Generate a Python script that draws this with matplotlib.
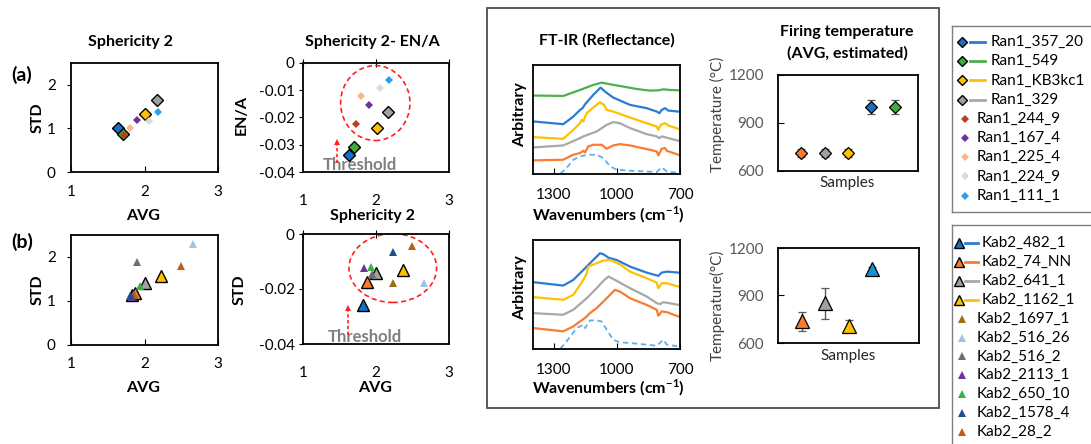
import matplotlib
matplotlib.use('Agg')
import matplotlib.pyplot as plt
from matplotlib.patches import Ellipse, Rectangle

plt.rcParams['font.family'] = ['Lato', 'DejaVu Sans']
plt.rcParams['font.size'] = 10
plt.rcParams['mathtext.fontset'] = 'custom'
plt.rcParams['mathtext.bf'] = 'Lato:bold'
plt.rcParams['mathtext.rm'] = 'Lato'

W, H = 1091, 444

# ---- Ran1 samples (panel a) ----
ran1_names = ['Ran1_357_20', 'Ran1_549', 'Ran1_KB3kc1', 'Ran1_329', 'Ran1_244_9',
              'Ran1_167_4', 'Ran1_225_4', 'Ran1_224_9', 'Ran1_111_1']
ran1_colors = ['#1a6fc4', '#3cae3c', '#ffc000', '#a0a0a0', '#b8401a',
               '#7030a0', '#f8b88b', '#d9d9d9', '#29a3e8']
ran1_avg = [1.64, 1.71, 2.01, 2.17, 1.72, 1.90, 1.80, 2.06, 2.18]
ran1_std = [1.00, 0.88, 1.34, 1.64, 0.86, 1.19, 1.00, 1.17, 1.37]
ran1_sph = [1.63, 1.70, 2.01, 2.16, 1.73, 1.90, 1.79, 2.05, 2.18]
ran1_ena = [-0.0338, -0.0308, -0.0238, -0.0180, -0.0224, -0.0154, -0.0121, -0.0092, -0.0062]

# ---- Kab2 samples (panel b) ----
kab2_names = ['Kab2_482_1', 'Kab2_74_NN', 'Kab2_641_1', 'Kab2_1162_1', 'Kab2_1697_1',
              'Kab2_516_26', 'Kab2_516_2', 'Kab2_2113_1', 'Kab2_650_10', 'Kab2_1578_4', 'Kab2_28_2']
kab2_colors = ['#1a6fc4', '#f97a2b', '#a0a0a0', '#ffc000', '#9c6f10',
               '#9dc3e6', '#6e6e6e', '#7030a0', '#3cb043', '#1f4e8c', '#c55a11']
kab2_avg = [1.83, 1.87, 2.01, 2.23, 1.86, 2.66, 1.90, 1.83, 1.94, 1.80, 2.50]
kab2_std = [1.14, 1.18, 1.41, 1.57, 1.15, 2.30, 1.89, 1.09, 1.34, 1.12, 1.80]
kab2_x2 = [1.82, 1.87, 2.00, 2.37, 2.23, 2.66, 1.95, 1.83, 1.93, 2.23, 2.49]
kab2_y2 = [-0.0260, -0.0176, -0.0142, -0.0130, -0.0178, -0.0178, -0.0145, -0.0125, -0.0120, -0.0067, -0.0044]
N_BIG = 4

# ---- FT-IR spectra, top (Ran1) ----
ira_green_wn = [1398, 1256, 1176, 1113, 1073, 1033, 970, 906, 843, 803, 779, 748, 708]
ira_green = [0.72, 0.716, 0.771, 0.817, 0.838, 0.823, 0.802, 0.780, 0.765, 0.768, 0.777, 0.771, 0.768]
ira_blue_wn = [1398, 1256, 1208, 1176, 1164, 1152, 1113, 1078, 1057, 1018, 938, 859, 811, 798, 787, 771, 756, 708]
ira_blue = [0.482, 0.457, 0.527, 0.588, 0.604, 0.640, 0.726, 0.793, 0.756, 0.701, 0.634, 0.604, 0.573, 0.558, 0.588, 0.604, 0.582, 0.573]
ira_gold_wn = [1398, 1256, 1208, 1176, 1168, 1160, 1152, 1144, 1113, 1081, 1062, 1049, 1018, 938, 859, 811, 803, 792, 771, 756, 708]
ira_gold = [0.338, 0.323, 0.405, 0.466, 0.497, 0.482, 0.527, 0.558, 0.610, 0.659, 0.634, 0.588, 0.573, 0.518, 0.466, 0.436, 0.405, 0.451, 0.466, 0.445, 0.415]
ira_gray_wn = [1398, 1256, 1176, 1160, 1097, 1049, 1018, 986, 938, 859, 811, 798, 787, 708]
ira_gray = [0.244, 0.262, 0.329, 0.345, 0.390, 0.451, 0.476, 0.466, 0.421, 0.366, 0.345, 0.329, 0.345, 0.305]
ira_orange_wn = [1398, 1256, 1208, 1176, 1160, 1152, 1137, 1113, 1073, 1049, 1018, 986, 938, 859, 811, 803, 787, 771, 763, 708]
ira_orange = [0.125, 0.131, 0.177, 0.192, 0.213, 0.198, 0.253, 0.268, 0.268, 0.232, 0.262, 0.274, 0.262, 0.229, 0.207, 0.171, 0.232, 0.238, 0.213, 0.177]
ira_ref_wn = [1398, 1271, 1240, 1208, 1176, 1137, 1097, 1065, 1033, 1002, 938, 811, 787, 763, 708]
ira_ref = [0.0, 0.0, 0.055, 0.131, 0.162, 0.177, 0.177, 0.146, 0.070, 0.040, 0.030, 0.018, 0.061, 0.024, 0.009]

# ---- FT-IR spectra, bottom (Kab2) ----
irb_blue_wn = [1398, 1256, 1208, 1160, 1113, 1081, 1065, 1041, 1002, 938, 859, 803, 787, 763, 708]
irb_blue = [0.613, 0.582, 0.634, 0.726, 0.817, 0.878, 0.869, 0.838, 0.817, 0.756, 0.701, 0.671, 0.701, 0.710, 0.701]
irb_gold_wn = [1398, 1256, 1208, 1160, 1144, 1137, 1097, 1065, 1033, 986, 938, 859, 811, 803, 787, 763, 708]
irb_gold = [0.476, 0.451, 0.497, 0.634, 0.695, 0.756, 0.787, 0.811, 0.817, 0.777, 0.710, 0.649, 0.610, 0.558, 0.604, 0.604, 0.573]
irb_gray_wn = [1398, 1256, 1208, 1144, 1097, 1065, 1041, 1010, 938, 859, 811, 795, 779, 708]
irb_gray = [0.329, 0.314, 0.360, 0.466, 0.558, 0.625, 0.665, 0.634, 0.558, 0.482, 0.421, 0.412, 0.430, 0.405]
irb_orange_wn = [1398, 1256, 1208, 1176, 1160, 1144, 1129, 1097, 1049, 1010, 986, 938, 859, 811, 803, 787, 763, 708]
irb_orange = [0.192, 0.162, 0.207, 0.253, 0.274, 0.299, 0.329, 0.375, 0.466, 0.543, 0.527, 0.466, 0.405, 0.360, 0.305, 0.345, 0.338, 0.299]
irb_ref_wn = [1398, 1271, 1240, 1192, 1160, 1152, 1129, 1097, 1073, 1049, 1018, 986, 938, 811, 779, 763, 708]
irb_ref = [0.0, 0.0, 0.070, 0.192, 0.223, 0.192, 0.262, 0.262, 0.253, 0.177, 0.085, 0.061, 0.055, 0.030, 0.085, 0.040, 0.024]

# ---- firing temperatures ----
fire_a_colors = ['#f97a2b', '#a0a0a0', '#ffc000', '#1a6fc4', '#3cae3c']
fire_a_temp = [712, 712, 712, 1000, 1000]
fire_a_err = [25, 25, 25, 45, 45]
fire_b_colors = ['#f97a2b', '#a0a0a0', '#ffc000', '#1a8fd6']
fire_b_temp = [736, 850, 710, 1067]
fire_b_err = [60, 100, 35, 15]

# threshold annotations (data coords)
thr_a = (1.47, -0.0367, -0.0290, 1.78, -0.0405)
thr_b = (1.62, -0.0367, -0.0270, 1.85, -0.0405)
ell_a = (1.99, -0.0147, 0.95, 0.0275)
ell_b = (2.23, -0.0124, 1.20, 0.0250)

LINE_BLUE = '#2a7bd4'
LINE_GREEN = '#4cb04c'
LINE_GOLD = '#ffc000'
LINE_GRAY = '#a8a8a8'
LINE_ORANGE = '#fb7b30'
REF_BLUE = '#5db0ec'
LINE_OF = {'#1a6fc4': LINE_BLUE, '#3cae3c': LINE_GREEN, '#ffc000': LINE_GOLD,
           '#a0a0a0': LINE_GRAY, '#f97a2b': LINE_ORANGE}

TICK = 11
fig = plt.figure(figsize=(W / 100, H / 100), dpi=100)


def px_axes(x0, y0, x1, y1):
    return fig.add_axes([x0 / W, 1 - y1 / H, (x1 - x0) / W, (y1 - y0) / H])


def ftext(x, y, s, **kw):
    kw.setdefault('ha', 'center')
    kw.setdefault('va', 'center')
    fig.text(x / W, 1 - y / H, s, **kw)


def box(ax, lw=1.3):
    for sp in ax.spines.values():
        sp.set_linewidth(lw)
        sp.set_color('black')


def scatter(ax, xs, ys, colors, marker, big_ms, small_ms):
    for i, (x, y, c) in enumerate(zip(xs, ys, colors)):
        if i < N_BIG:
            ax.plot(x, y, marker=marker, ms=big_ms, mfc=c, mec='black', mew=1.0, ls='none', zorder=3)
        else:
            ax.plot(x, y, marker=marker, ms=small_ms, mfc=c, mec=c, mew=0, ls='none', zorder=4)


def std_panel(ax):
    box(ax)
    ax.set_xlim(1, 3)
    ax.set_ylim(0, 2.5)
    ax.set_xticks([1, 2, 3])
    ax.set_yticks([0, 1, 2])
    ax.tick_params(axis='x', direction='in', length=4, pad=9, labelsize=TICK)
    ax.tick_params(axis='y', direction='out', length=3, pad=8, labelsize=TICK)


def ena_panel(ax, ticks, ell, thr):
    box(ax)
    ax.set_xlim(1, 3)
    ax.set_ylim(-0.04, 0)
    ax.set_xticks([1, 2, 3])
    ax.set_yticks(ticks)
    ax.set_yticklabels(['0' if t == 0 else f'{t:g}' for t in ticks])
    ax.tick_params(axis='x', bottom=False, top=True, labelbottom=True, direction='inout',
                   length=6, pad=13, labelsize=TICK)
    ax.tick_params(axis='y', direction='out', length=3, pad=3, labelsize=TICK)
    ax.add_patch(Ellipse((ell[0], ell[1]), ell[2], ell[3], fill=False, ec='#ff2020',
                         lw=1.2, ls=(0, (3, 2)), zorder=2))
    ax.plot([thr[0], thr[0]], [thr[1], thr[2]], color='#ff2020', lw=1.2, ls=(0, (2, 1.5)))
    ax.plot(thr[0], thr[2], marker='^', ms=5, color='#ff2020', mew=0)
    ax.text(thr[3], thr[4], 'Threshold', ha='center', va='bottom', color='#7f7f7f',
            fontsize=12, fontweight='bold', clip_on=True, zorder=1)


# ---- panel (a) ----
ax = px_axes(71, 63, 218, 172)
std_panel(ax)
scatter(ax, ran1_avg, ran1_std, ran1_colors, 'D', 6, 3.8)
ax = px_axes(303, 63, 449, 172)
ena_panel(ax, [0, -0.01, -0.02, -0.03, -0.04], ell_a, thr_a)
scatter(ax, ran1_sph, ran1_ena, ran1_colors, 'D', 6, 3.8)

# ---- panel (b) ----
ax = px_axes(71, 235, 218, 345)
std_panel(ax)
scatter(ax, kab2_avg, kab2_std, kab2_colors, '^', 9, 5.5)
ax = px_axes(303, 234, 449, 344)
ena_panel(ax, [0, -0.02, -0.04], ell_b, thr_b)
scatter(ax, kab2_x2, kab2_y2, kab2_colors, '^', 9, 5.5)

bold = dict(fontweight='bold', fontsize=11.5)
ftext(130, 42, 'Sphericity 2', **bold)
ftext(372, 42, 'Sphericity 2- EN/A', **bold)
ftext(22, 75, '(a)', fontweight='bold', fontsize=14)
ftext(22, 242, '(b)', fontweight='bold', fontsize=14)
ftext(143, 216, 'AVG', **bold)
ftext(372, 216, 'Sphericity 2', **bold)
ftext(143, 388, 'AVG', **bold)
ftext(375, 388, 'AVG', **bold)
ftext(38, 118, 'STD', rotation=90, **bold)
ftext(242, 115, 'EN/A', rotation=90, **bold)
ftext(38, 290, 'STD', rotation=90, **bold)
ftext(240, 290, 'STD', rotation=90, **bold)

# ---- FT-IR frame ----
fig.patches.append(Rectangle((487 / W, 1 - 408 / H), (939 - 487) / W, (408 - 8) / H,
                             transform=fig.transFigure, fill=False, ec='#4d4d4d', lw=1.3))


def ir_panel(ax, curves, ref):
    box(ax)
    for wn, ys, c in curves:
        ax.plot(wn, ys, color=c, lw=1.6)
    ax.plot(ref[0], ref[1], color=REF_BLUE, lw=1.3, ls=(0, (3, 2)))
    ax.set_xlim(1400, 700)
    ax.set_ylim(0, 1)
    ax.set_xticks([1300, 1000, 700])
    ax.set_yticks([])
    ax.tick_params(axis='x', direction='in', length=4, pad=10, labelsize=TICK)


ax = px_axes(533, 65, 680, 174)
ir_panel(ax, [(ira_green_wn, ira_green, LINE_GREEN), (ira_blue_wn, ira_blue, LINE_BLUE),
              (ira_gold_wn, ira_gold, LINE_GOLD), (ira_gray_wn, ira_gray, LINE_GRAY),
              (ira_orange_wn, ira_orange, LINE_ORANGE)], (ira_ref_wn, ira_ref))
ax = px_axes(533, 240, 680, 349)
ir_panel(ax, [(irb_blue_wn, irb_blue, LINE_BLUE), (irb_gold_wn, irb_gold, LINE_GOLD),
              (irb_gray_wn, irb_gray, LINE_GRAY), (irb_orange_wn, irb_orange, LINE_ORANGE)],
         (irb_ref_wn, irb_ref))

ftext(607, 40, 'FT-IR (Reflectance)', **bold)
ftext(608, 215, 'Wavenumbers (cm$^{\\mathbf{-1}}$)', **bold)
ftext(608, 388, 'Wavenumbers (cm$^{\\mathbf{-1}}$)', **bold)
ftext(520, 115, 'Arbitrary', rotation=90, **bold)
ftext(520, 288, 'Arbitrary', rotation=90, **bold)


def fire_panel(ax, temps, errs, colors, marker, ms):
    box(ax)
    for i, (t, e, c) in enumerate(zip(temps, errs, colors)):
        ax.errorbar(i + 1, t, yerr=e, fmt=marker, ms=ms, mfc=c, mec='black', mew=0.9,
                    ecolor='#595959', elinewidth=1.0, capsize=3, zorder=3)
    ax.set_xlim(0, 6)
    ax.set_ylim(600, 1200)
    ax.set_xticks([])
    ax.set_yticks([600, 900, 1200])
    ax.tick_params(axis='y', direction='in', length=4, pad=10, labelsize=TICK, labelcolor='#595959')


ax = px_axes(778, 75, 918, 171)
fire_panel(ax, fire_a_temp, fire_a_err, fire_a_colors, 'D', 6)
ax = px_axes(778, 248, 919, 343)
fire_panel(ax, fire_b_temp, fire_b_err, fire_b_colors, '^', 10)

ftext(847, 32, 'Firing temperature', **bold)
ftext(847, 53, '(AVG, estimated)', **bold)
ftext(717, 114, 'Temperature (°C)', rotation=90, fontsize=11, color='#404040')
ftext(717, 305, 'Temperature(°C)', rotation=90, fontsize=11, color='#404040')
ftext(847, 183, 'Samples', fontsize=11, color='#262626')
ftext(848, 356, 'Samples', fontsize=11, color='#262626')


# ---- legends ----
def legend(x0, y0, y1, names, colors, marker, big_ms, small_ms, first, step,
           mx, lx0, lx1, tx, smx, stx):
    lg = px_axes(x0, y0, W + 2, y1)
    lg.set_xlim(0, W + 2 - x0)
    lg.set_ylim(y1 - y0, 0)
    lg.set_xticks([])
    lg.set_yticks([])
    for sp in lg.spines.values():
        sp.set_color('#7f7f7f')
        sp.set_linewidth(1.0)
    for i, (n, c) in enumerate(zip(names, colors)):
        y = first + i * step
        if i < N_BIG:
            lg.plot([lx0, lx1], [y, y], color=LINE_OF[c], lw=2)
            lg.plot(mx, y, marker=marker, ms=big_ms, mfc=c, mec='black', mew=1.0)
            lg.text(tx, y, n, va='center', ha='left', fontsize=11)
        else:
            lg.plot(smx, y, marker=marker, ms=small_ms, mfc=c, mec=c, mew=0)
            lg.text(stx, y, n, va='center', ha='left', fontsize=11)


legend(952, 26, 212, ran1_names, ran1_colors, 'D', 5.2, 4, 16, 19.2, 10, 18, 33, 39, 13, 25)
legend(952, 225, H + 2, kab2_names, kab2_colors, '^', 6.5, 5.5, 18, 18.9, 7, 13, 26, 30, 10, 25)

fig.savefig('out.png', dpi=100, facecolor='white')
